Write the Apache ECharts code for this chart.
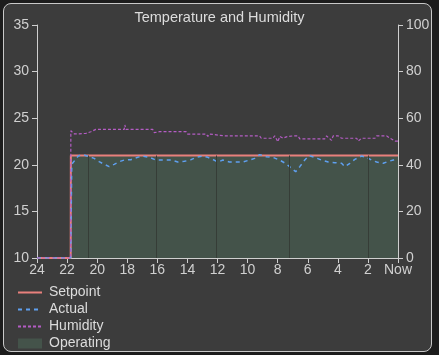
<!DOCTYPE html>
<html><head><meta charset="utf-8">
<script src="https://cdn.jsdelivr.net/npm/echarts@6/dist/echarts.min.js"></script>
<style>
html,body{margin:0;padding:0;background:#1c1c1c;}
#box{position:absolute;left:3px;top:3px;width:427px;height:347px;border:1px solid #c8c8c8;border-radius:8px;background:#3c3c3c;}
#c{position:absolute;left:0;top:0;width:439px;height:355px;}
</style></head>
<body><div id="box"></div><div id="c"></div>
<script>
// x values are hours ago (24 .. 0 = Now)
const xTicks = [24,22,20,18,16,14,12,10,8,6,4,2,0];
const setpointHours = [24, 21.76, 21.75, 0];
const setpointTemps = [10, 10, 21, 21];
const actualHours = [24,21.76,21.69,21.47,21.24,20.87,20.53,20.2,19.87,19.53,19.2,18.87,18.53,18.2,17.76,17.31,16.98,16.53,16.09,15.64,15.09,14.64,14.2,13.76,13.42,12.98,12.64,12.31,11.98,11.64,11.2,10.75,10.31,9.87,9.53,9.2,8.75,8.31,7.87,7.42,7.09,6.8,6.53,6.2,5.91,5.53,5.09,4.64,4.2,3.75,3.53,3.2,2.87,2.42,2.09,1.76,1.42,0.98,0.64,0.31,0.09];
const actualTemps = [10,10,20.05,20.51,20.98,21.05,20.87,20.69,20.34,20.05,19.8,20.05,20.34,20.51,20.55,20.8,20.94,20.8,20.51,20.51,20.51,20.3,20.37,20.55,20.8,20.94,20.8,20.58,20.3,20.51,20.3,20.3,20.3,20.51,20.69,21.09,20.87,20.8,20.51,20.09,19.62,19.26,19.8,20.51,20.98,20.8,20.51,20.3,20.23,20.16,19.8,20.16,20.58,20.94,20.8,20.51,20.3,20.16,20.37,20.51,20.8];
const humidityHours = [24,21.76,21.75,21.53,21.2,21.09,20.75,20.42,20.09,19.2,18.2,18.16,18.09,17.2,16.31,16.2,15.87,14.53,14.09,13.98,12.75,12.64,12.53,11.64,11.53,11.42,9.2,9.09,8.31,8.2,7.98,7.87,7.64,7.42,6.98,6.64,6.53,4.87,4.75,4.42,4.31,3.98,3.75,2.75,2.64,2.42,1.53,1.42,0.75,0.53,0.2,0];
const humidityValues = [0,0,54.6,53.3,53.3,52.5,53.5,54.2,55.2,55.2,55.2,57.1,55.2,55.2,55.2,53.8,54.2,54.2,54.2,53.2,53.2,52.2,53.2,52.5,53.2,52.4,52.4,51.4,51.4,52.4,49.9,52.2,51.4,52.0,52.4,52.4,51.1,51.1,52.4,50.5,52.4,52.4,51.4,51.4,50.2,51.4,51.4,52.4,52.4,51.4,50.2,50.2];
const operatingHours = [21.75, 0];
const operatingLevel = [21, 21];
const operatingBreaks = [20.58, 16.09, 12.09, 7.2, 1.98];

const zip = (a,b)=>a.map((v,i)=>[v,b[i]]);
const font = 'Liberation Sans, Arial, sans-serif';
const axisCol = '#cfcfcf';
const opColor = '#44534a';
const chart = echarts.init(document.getElementById('c'), null, {renderer:'canvas'});
chart.setOption({
  backgroundColor: 'transparent',
  animation: false,
  title: {text:'Temperature and Humidity', left:'center', top:5, textStyle:{color:'#dcdcdc', fontSize:14.5, fontWeight:'normal', fontFamily:font}},
  grid: {left:37, right:41, top:25, bottom:97},
  legend: {orient:'vertical', left:12, top:279, height:76, itemWidth:24, itemHeight:10, itemGap:0,
    itemStyle:{opacity:0},
    textStyle:{color:'#dcdcdc', fontSize:14, lineHeight:17, fontFamily:font, padding:[0,0,0,2]},
    data:['Setpoint','Actual','Humidity',{name:'Operating', icon:'rect', itemStyle:{opacity:1, color:opColor}}]},
  xAxis: {type:'value', min:0, max:24, interval:2, inverse:true,
    axisLine:{show:true, onZero:false, lineStyle:{color:axisCol}}, axisTick:{show:true, length:5, lineStyle:{color:axisCol}},
    splitLine:{show:false},
    axisLabel:{color:'#d0d0d0', fontSize:14, fontFamily:font, margin:5, formatter:v=>v===0?'Now':String(v)}},
  yAxis: [
    {type:'value', min:10, max:35, interval:5, position:'left',
      axisLine:{show:true, onZero:false, lineStyle:{color:axisCol}}, axisTick:{show:true, length:5, lineStyle:{color:axisCol}},
      splitLine:{show:false}, axisLabel:{color:'#d0d0d0', fontSize:14, fontFamily:font, margin:8}},
    {type:'value', min:0, max:100, interval:20, position:'right',
      axisLine:{show:true, onZero:false, lineStyle:{color:axisCol}}, axisTick:{show:true, length:5, lineStyle:{color:axisCol}},
      splitLine:{show:false}, axisLabel:{color:'#d0d0d0', fontSize:14, fontFamily:font, margin:8}}
  ],
  series: [
    {name:'Operating', type:'line', yAxisIndex:0, data:zip(operatingHours, operatingLevel), symbol:'none',
      lineStyle:{width:0}, itemStyle:{color:opColor}, areaStyle:{color:opColor, opacity:1}, z:1,
      markLine:{silent:true, symbol:'none', label:{show:false}, lineStyle:{color:'#363d37', type:'solid', width:1},
        data: operatingBreaks.map(h=>[{coord:[h,10]},{coord:[h,21]}])}},
    {name:'Setpoint', type:'line', yAxisIndex:0, data:zip(setpointHours, setpointTemps), symbol:'none',
      lineStyle:{color:'#e8807c', width:2}, itemStyle:{color:'#e8807c'}, z:3},
    {name:'Actual', type:'line', yAxisIndex:0, data:zip(actualHours, actualTemps), symbol:'none',
      lineStyle:{color:'#5fa0f0', width:1.5, type:[4,4]}, itemStyle:{color:'#5fa0f0'}, z:4},
    {name:'Humidity', type:'line', yAxisIndex:1, data:zip(humidityHours, humidityValues), symbol:'none',
      lineStyle:{color:'#b45cc4', width:1.2, type:[3,2]}, itemStyle:{color:'#b45cc4'}, z:5}
  ]
});
</script></body></html>
